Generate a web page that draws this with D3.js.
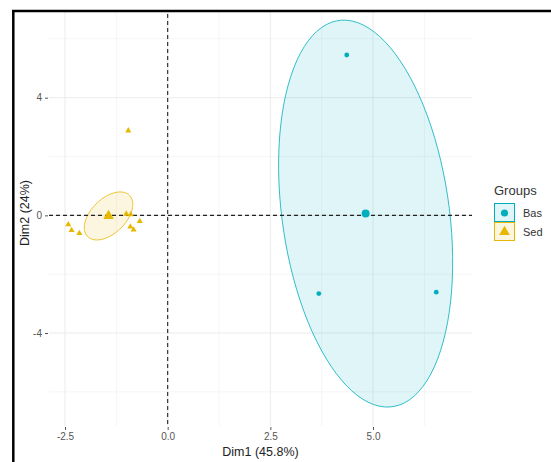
<!DOCTYPE html>
<html>
<head>
<meta charset="utf-8">
<script src="https://cdn.jsdelivr.net/npm/d3@7"></script>
<style>
  body { margin: 0; background: #fff; }
  svg { display: block; font-family: "Liberation Sans", Arial, sans-serif; }
</style>
</head>
<body>
<div id="vis"></div>
<script>
// data
var groups = ['Bas', 'Sed'];
var groupColors = ['#00AFBB', '#E7B800'];

var basDim1 = [4.36, 3.68, 6.54];
var basDim2 = [5.45, -2.66, -2.61];

var sedDim1 = [-2.42, -2.34, -2.15, -1.01, -0.90, -0.68, -0.91, -0.83, -0.96];
var sedDim2 = [-0.31, -0.51, -0.61, 0.05, 0.03, -0.20, -0.39, -0.49, 2.88];

// group centroids (big markers)
var centroidDim1 = [4.82, -1.44];
var centroidDim2 = [0.06, -0.02];

// confidence ellipses: semi axes (data units) and rotation in degrees
var ellipseA = [6.60, 0.888];
var ellipseB = [2.045, 0.475];
var ellipseAngle = [95.1, 62.2];

var xTicks = [-2.5, 0, 2.5, 5];
var yTicks = [-4, 0, 4];
var xMinor = [-1.25, 1.25, 3.75, 6.25];
var yMinor = [-6, -2, 2, 6];

var width = 551;
var height = 462;

// panel area
var panel = { left: 49, right: 472, top: 0, bottom: 426 };

var x = d3.scaleLinear().domain([-2.89, 7.41]).range([panel.left, panel.right]);
var y = d3.scaleLinear().domain([-7.16, 7.32]).range([panel.bottom, panel.top]);

var svg = d3.select('#vis')
  .append('svg')
  .attr('width', width)
  .attr('height', height);

// grid lines (theme_minimal)
var grid = svg.append('g');
grid.selectAll('.vminor').data(xMinor).enter().append('line')
  .attr('x1', function (d) { return x(d); }).attr('x2', function (d) { return x(d); })
  .attr('y1', panel.top).attr('y2', panel.bottom)
  .attr('stroke', '#f3f3f3').attr('stroke-width', 0.8);
grid.selectAll('.hminor').data(yMinor).enter().append('line')
  .attr('y1', function (d) { return y(d); }).attr('y2', function (d) { return y(d); })
  .attr('x1', panel.left).attr('x2', panel.right)
  .attr('stroke', '#f3f3f3').attr('stroke-width', 0.8);
grid.selectAll('.vmajor').data(xTicks).enter().append('line')
  .attr('x1', function (d) { return x(d); }).attr('x2', function (d) { return x(d); })
  .attr('y1', panel.top).attr('y2', panel.bottom)
  .attr('stroke', '#ebebeb').attr('stroke-width', 1);
grid.selectAll('.hmajor').data(yTicks).enter().append('line')
  .attr('y1', function (d) { return y(d); }).attr('y2', function (d) { return y(d); })
  .attr('x1', panel.left).attr('x2', panel.right)
  .attr('stroke', '#ebebeb').attr('stroke-width', 1);

// ellipses
function ellipsePoints(i) {
  var pts = [];
  var th = ellipseAngle[i] * Math.PI / 180;
  for (var k = 0; k < 100; k++) {
    var t = 2 * Math.PI * k / 100;
    var u = ellipseA[i] * Math.cos(t);
    var v = ellipseB[i] * Math.sin(t);
    pts.push([
      centroidDim1[i] + u * Math.cos(th) - v * Math.sin(th),
      centroidDim2[i] + u * Math.sin(th) + v * Math.cos(th)
    ]);
  }
  return pts;
}

var line = d3.line()
  .x(function (d) { return x(d[0]); })
  .y(function (d) { return y(d[1]); })
  .curve(d3.curveLinearClosed);

svg.selectAll('.ellipse')
  .data(groups)
  .enter().append('path')
  .attr('d', function (d, i) { return line(ellipsePoints(i)); })
  .attr('fill', function (d, i) { return groupColors[i]; })
  .attr('fill-opacity', 0.12)
  .attr('stroke', function (d, i) { return groupColors[i]; })
  .attr('stroke-opacity', 0.8)
  .attr('stroke-width', 1);

// reference lines at 0
svg.append('line')
  .attr('x1', panel.left).attr('x2', panel.right)
  .attr('y1', y(0)).attr('y2', y(0))
  .attr('stroke', '#222').attr('stroke-width', 1.1)
  .attr('stroke-dasharray', '4,3');
svg.append('line')
  .attr('x1', x(0)).attr('x2', x(0))
  .attr('y1', panel.top).attr('y2', panel.bottom)
  .attr('stroke', '#222').attr('stroke-width', 1.1)
  .attr('stroke-dasharray', '4,3');

// individuals
var triangle = d3.symbol().type(d3.symbolTriangle);

svg.selectAll('.bas')
  .data(basDim1)
  .enter().append('circle')
  .attr('cx', function (d) { return x(d); })
  .attr('cy', function (d, i) { return y(basDim2[i]); })
  .attr('r', 2.4)
  .attr('fill', groupColors[0]);

svg.selectAll('.sed')
  .data(sedDim1)
  .enter().append('path')
  .attr('d', triangle.size(16))
  .attr('transform', function (d, i) { return 'translate(' + x(d) + ',' + y(sedDim2[i]) + ')'; })
  .attr('fill', groupColors[1]);

// centroids
svg.append('circle')
  .attr('cx', x(centroidDim1[0]))
  .attr('cy', y(centroidDim2[0]))
  .attr('r', 4)
  .attr('fill', groupColors[0]);
svg.append('path')
  .attr('d', d3.symbol().type(d3.symbolTriangle).size(48)())
  .attr('transform', 'translate(' + x(centroidDim1[1]) + ',' + y(centroidDim2[1]) + ')')
  .attr('fill', groupColors[1]);

// axes
var xAxis = svg.append('g')
  .attr('transform', 'translate(0,' + (panel.bottom + 1) + ')')
  .call(d3.axisBottom(x).tickValues(xTicks).tickSize(3).tickPadding(3)
    .tickFormat(function (d) { return d.toFixed(1); }));
var yAxis = svg.append('g')
  .attr('transform', 'translate(' + (panel.left - 1) + ',0)')
  .call(d3.axisLeft(y).tickValues(yTicks).tickSize(3).tickPadding(3)
    .tickFormat(function (d) { return d.toString(); }));

[xAxis, yAxis].forEach(function (ax) {
  ax.select('.domain').remove();
  ax.selectAll('line').attr('stroke', '#555');
  ax.selectAll('text')
    .attr('fill', '#555')
    .style('font-size', '10px')
    .style('font-family', '"Liberation Sans", Arial, sans-serif');
});

// axis titles
svg.append('text')
  .attr('x', (panel.left + panel.right) / 2)
  .attr('y', 456)
  .attr('text-anchor', 'middle')
  .style('font-size', '12.5px')
  .attr('fill', '#222')
  .text('Dim1 (45.8%)');

svg.append('text')
  .attr('transform', 'translate(29,' + ((panel.top + panel.bottom) / 2) + ') rotate(-90)')
  .attr('text-anchor', 'middle')
  .style('font-size', '12.5px')
  .attr('fill', '#222')
  .text('Dim2 (24%)');

// legend
var legend = svg.append('g').attr('transform', 'translate(494,184)');
legend.append('text')
  .attr('x', 0).attr('y', 11)
  .style('font-size', '13px')
  .attr('fill', '#333')
  .text('Groups');

var keys = legend.selectAll('.key')
  .data(groups)
  .enter().append('g')
  .attr('transform', function (d, i) { return 'translate(0,' + (19 + i * 19) + ')'; });

keys.append('rect')
  .attr('x', 0.5).attr('y', 0.5)
  .attr('width', 20).attr('height', 18)
  .attr('fill', function (d, i) { return groupColors[i]; })
  .attr('fill-opacity', 0.12)
  .attr('stroke', function (d, i) { return groupColors[i]; })
  .attr('stroke-width', 1);

keys.append('path')
  .attr('d', function (d, i) {
    return i === 0 ? d3.symbol().type(d3.symbolCircle).size(40)() : d3.symbol().type(d3.symbolTriangle).size(50)();
  })
  .attr('transform', 'translate(10.5,10)')
  .attr('fill', function (d, i) { return groupColors[i]; });

keys.append('text')
  .attr('x', 29).attr('y', 14)
  .style('font-size', '11px')
  .attr('fill', '#333')
  .text(function (d) { return d; });

// outer frame of the picture (clipped screenshot border)
svg.append('rect').attr('x', 0).attr('y', 0).attr('width', width).attr('height', 10).attr('fill', '#fff');
svg.append('rect').attr('x', 0).attr('y', 0).attr('width', 12).attr('height', height).attr('fill', '#fff');
svg.append('line')
  .attr('x1', 12).attr('x2', width).attr('y1', 11).attr('y2', 11)
  .attr('stroke', '#000').attr('stroke-width', 2.5);
svg.append('line')
  .attr('x1', 13.3).attr('x2', 13.3).attr('y1', 10).attr('y2', height)
  .attr('stroke', '#000').attr('stroke-width', 2.5);
</script>
</body>
</html>
